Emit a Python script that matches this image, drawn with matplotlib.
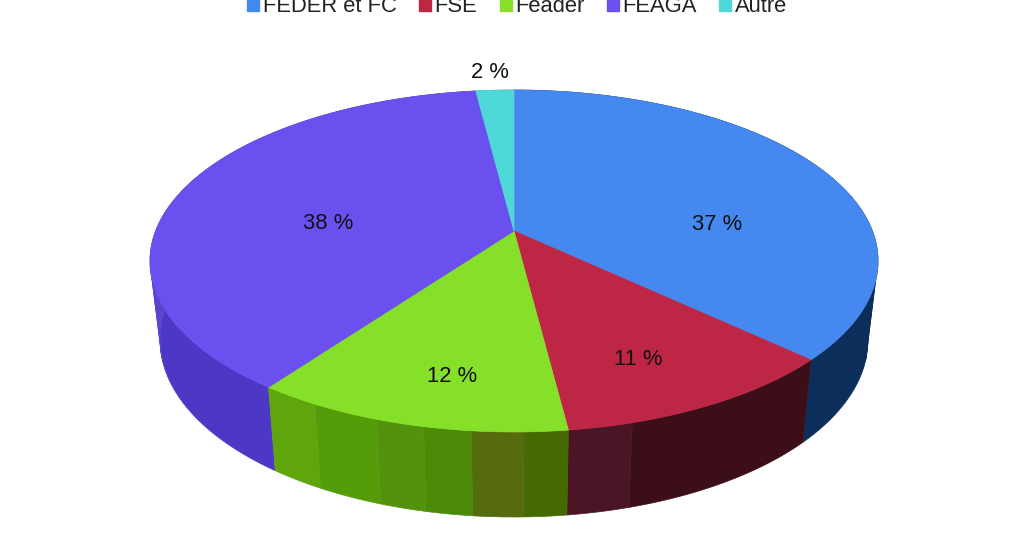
import matplotlib
matplotlib.use("Agg")
import matplotlib.pyplot as plt
from matplotlib.patches import Polygon, Patch
import numpy as np

plt.rcParams['font.family'] = ['Liberation Sans', 'DejaVu Sans']

# donnees
categories = ["FEDER et FC", "FSE", "Feader", "FEAGA", "Autre"]
values = [37, 11, 12, 38, 2]
labels = ["37 %", "11 %", "12 %", "38 %", "2 %"]
colors = ["#4488f0", "#be2645", "#86e02a", "#6a50ee", "#4fd8d8"]
label_x = [717, 638, 452, 328, 490]
label_y = [224.5, 359.5, 376.5, 223.5, 73]

# bandes du flanc : (fin de la bande en fraction du secteur, couleur)
side_bands = [
    [(0.80, "#0a2145"), (1.0, "#0c2e5a")],
    [(0.78, "#3c0f18"), (1.0, "#4a1626")],
    [(0.136, "#456a02"), (0.297, "#556b0e"), (0.446, "#4a8a06"), (0.597, "#52920d"), (0.815, "#559c0a"), (1.0, "#5fa60d")],
    [(0.28, "#4d38c6"), (1.0, "#5846d0")],
    [(1.0, "#2a8c8c")],
]

# perspective du disque (pixels)
cx = 514
top_cy, top_a, top_b = 231, 358.4, 165.7
bot_cy, bot_a, bot_b = 309, 348.5, 171.5
k = 0.1754


def rim(t, cy, a, b, r=1.0):
    s = np.sin(t)
    c = np.cos(t)
    return cx + a * r * c / (1 + k * r * s), cy - b * r * s / (1 + k * r * s)


fig = plt.figure(figsize=(10.24, 5.56), dpi=100)
ax = fig.add_axes([0, 0, 1, 1])
ax.set_xlim(0, 1024)
ax.set_ylim(556, 0)
ax.axis("off")

ends = np.cumsum(values) / sum(values)
starts = np.concatenate([[0], ends[:-1]])

# flancs d'abord, le dessus les recouvre ensuite
for i in [4, 0, 3, 1, 2]:
    f0 = starts[i]
    df = ends[i] - starts[i]
    prev = 0.0
    for frac, col in side_bands[i]:
        a0 = np.pi / 2 - 2 * np.pi * (f0 + prev * df)
        a1 = np.pi / 2 - 2 * np.pi * (f0 + frac * df)
        t = np.linspace(a0, a1, 60)
        xt, yt = rim(t, top_cy, top_a, top_b)
        xb, yb = rim(t, bot_cy, bot_a, bot_b)
        pts = np.column_stack([np.concatenate([xt, xb[::-1]]), np.concatenate([yt, yb[::-1]])])
        ax.add_patch(Polygon(pts, closed=True, fc=col, ec=col, lw=0.5))
        prev = frac

for i in range(len(values)):
    t = np.linspace(np.pi / 2 - 2 * np.pi * starts[i], np.pi / 2 - 2 * np.pi * ends[i], 200)
    xt, yt = rim(t, top_cy, top_a, top_b)
    pts = np.column_stack([np.concatenate([[cx], xt]), np.concatenate([[top_cy], yt])])
    ax.add_patch(Polygon(pts, closed=True, fc=colors[i], ec=colors[i], lw=0.5))
    ax.text(label_x[i], label_y[i], labels[i], ha="center", va="center", fontsize=15.8, color="#111111")

handles = [Patch(fc=c, ec=c, label=n) for c, n in zip(colors, categories)]
ax.legend(handles=handles, ncol=5, frameon=False, fontsize=15.8, loc="center",
          bbox_to_anchor=(517 / 1024, 1 - 6 / 556), handlelength=0.55, handleheight=0.6,
          handletextpad=0.15, columnspacing=1.03, labelcolor="#222222", borderpad=0, borderaxespad=0)

fig.savefig("out.png", dpi=100)
